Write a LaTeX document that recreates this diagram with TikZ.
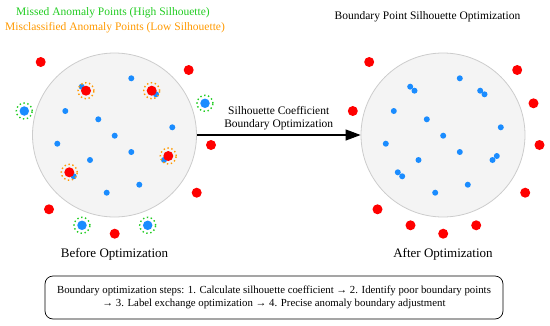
\documentclass[tikz,border=0pt]{standalone}
\usepackage{fontspec}
\setmainfont{Liberation Serif}
\usepackage{xcolor}
\usepackage{tikz}
\usetikzlibrary{arrows.meta, positioning}
\definecolor{anomred}{HTML}{FF0000}
\definecolor{normblue}{HTML}{1A8CFF}
\definecolor{missgreen}{HTML}{22CC22}
\definecolor{misorange}{HTML}{FF9900}
\tikzset{
  region/.style={circle, draw=gray!40, fill=gray!9, line width=0.8pt,
                 minimum size=164pt, inner sep=0pt},
  inpt/.style={circle, fill=normblue, inner sep=0pt, minimum size=6pt},
  redpt/.style={circle, fill=anomred, inner sep=0pt, minimum size=10pt},
  misspt/.style={circle, fill=normblue, inner sep=0pt, minimum size=9.5pt},
  greenring/.style={circle, draw=missgreen, line width=1.4pt,
                    dash pattern=on 1.4pt off 2.6pt, minimum size=16pt, inner sep=0pt},
  orangering/.style={greenring, draw=misorange},
  lbl/.style={font=\fontsize{11.5}{13.5}\selectfont, align=center},
  ttl/.style={font=\fontsize{13}{15}\selectfont},
  arc/.style={-{Triangle[length=15pt, width=11pt]}, line width=1.1pt}
}

\begin{document}
\begin{tikzpicture}[x=1pt, y=-1pt]
  \useasboundingbox (0,0) rectangle (550,325);

  % legend and title
  \node[lbl, text=missgreen] (legmiss) at (113,13) {Missed Anomaly Points (High Silhouette)};
  \node[lbl, text=misorange] (legmis) at (115,28) {Misclassified Anomaly Points (Low Silhouette)};
  \node[lbl] (title) at (427.5,17) {Boundary Point Silhouette Optimization};

  % before
  \node[region] (lc) at (114.5,135) {};
  \foreach \x/\y [count=\i] in {131.3/78.3, 65.3/111, 98.3/119.3, 172.3/127.3, 114.7/135.7,
      57.3/143.7, 131.3/152, 90/160, 139.3/184.7, 106.7/192.7}
    \node[inpt] (lb\i) at (\x,\y) {};
  \foreach \bx/\by/\rx/\ry [count=\i] in {81.7/86.7/86/90.7, 156/94.3/151.7/90.7,
      164/160/168.3/156, 73.7/176.3/69.3/172.3} {
    \node[inpt] (lw\i) at (\bx,\by) {};
    \node[orangering] (lo\i) at (\rx,\ry) {};
    \node[redpt] (lr\i) at (\rx,\ry) {};
  }
  \foreach \x/\y [count=\i] in {40.7/62, 188.7/70, 211/145, 196.7/192.7, 49/209.3, 114.7/233.7}
    \node[redpt] (la\i) at (\x,\y) {};
  \foreach \x/\y [count=\i] in {24.3/111, 205/103.3, 82/225.3, 147.7/225.3} {
    \node[greenring] (lg\i) at (\x,\y) {};
    \node[misspt] (lm\i) at (\x,\y) {};
  }
  \node[ttl] (before) at (114.5,254) {Before Optimization};

  % after
  \begin{scope}[xshift=328.5pt]
    \node[region] (rc) at (114.5,135) {};
    \foreach \x/\y [count=\i] in {131.3/78.3, 65.3/111, 98.3/119.3, 172.3/127.3, 114.7/135.7,
        57.3/143.7, 131.3/152, 90/160, 139.3/184.7, 106.7/192.7,
        81.7/86.7, 86/90.7, 156/94.3, 151.7/90.7, 164/160, 168.3/156, 73.7/176.3, 69.3/172.3}
      \node[inpt] (rb\i) at (\x,\y) {};
    \foreach \x/\y [count=\i] in {40.7/62, 188.7/70, 211/145, 196.7/192.7, 49/209.3, 114.7/233.7,
        24.3/111, 205/103.3, 82/225.3, 147.7/225.3}
      \node[redpt] (ra\i) at (\x,\y) {};
    \node[ttl] (after) at (114.5,254) {After Optimization};
  \end{scope}

  % optimization arrow
  \draw[arc] (lc.east) -- (rc.west)
    node[midway, above, lbl, yshift=1pt] {Silhouette Coefficient\\Boundary Optimization};

  % steps
  \node[draw, rounded corners=8pt, line width=0.7pt, minimum width=458pt, minimum height=43pt,
        lbl, font=\fontsize{10.8}{13.5}\selectfont] (steps) at (274,297.5)
    {Boundary optimization steps: 1. Calculate silhouette coefficient → 2. Identify poor boundary points\\
     → 3. Label exchange optimization → 4. Precise anomaly boundary adjustment};
\end{tikzpicture}
\end{document}
